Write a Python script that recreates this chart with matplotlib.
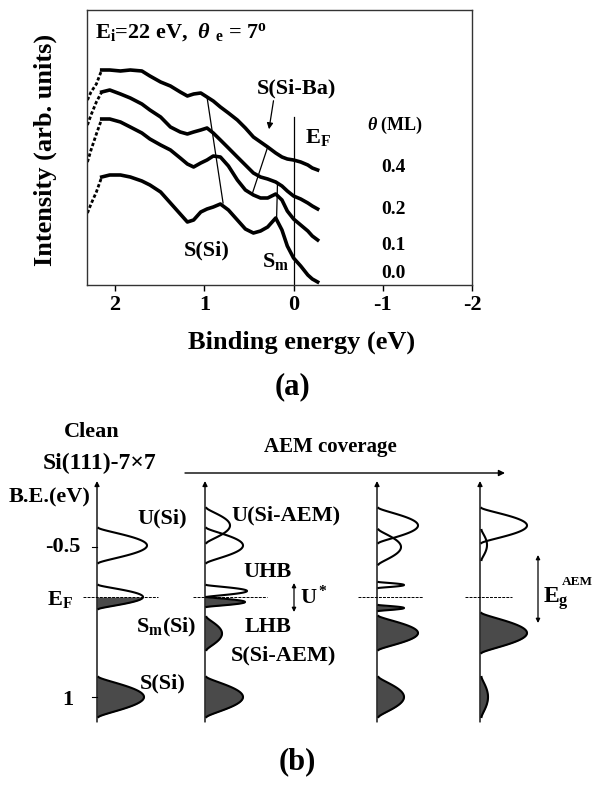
import numpy as np
import matplotlib
matplotlib.use("Agg")
import matplotlib.pyplot as plt

plt.rcParams['font.family'] = ['Liberation Serif', 'DejaVu Serif']
plt.rcParams['font.weight'] = 'bold'
plt.rcParams['mathtext.fontset'] = 'custom'
plt.rcParams['mathtext.rm'] = 'Liberation Serif:bold'
plt.rcParams['mathtext.bf'] = 'Liberation Serif:bold'
plt.rcParams['mathtext.it'] = 'Liberation Serif:italic'

# ---------------- panel (a) data ----------------
energy = [2.31, 2.27, 2.21, 2.15, 2.06, 1.94, 1.83, 1.70, 1.61, 1.49, 1.38, 1.27,
          1.19, 1.12, 1.04, 0.97, 0.90, 0.82, 0.73, 0.63, 0.54, 0.45, 0.37, 0.29,
          0.20, 0.13, 0.07, 0.00, -0.08, -0.16, -0.21, -0.27]
int_04 = [185, 193, 201, 215, 215, 214, 215, 214, 209, 203, 199, 193, 189, 191, 192, 188,
          184, 178, 172, 165, 157, 148, 143, 138, 132, 128, 126, 125, 123, 120, 117, 115]
int_02 = [160, 170, 183, 193, 195, 191, 187, 181, 175, 168, 158, 153, 151, 153, 155, 157,
          152, 145, 137, 128, 120, 112, 108, 106, 103, 99, 94, 89, 86, 82, 79, 76]
int_01 = [123, 135, 151, 166, 166, 163, 158, 152, 146, 140, 135, 127, 121, 118, 122, 125,
          129, 128, 119, 105, 95, 90, 87, 87, 91, 85, 74, 66, 60, 54, 49, 45]
int_00 = [72, 81, 93, 108, 110, 110, 108, 104, 100, 93, 82, 71, 63, 65, 73, 76,
          78, 81, 75, 65, 56, 52, 54, 58, 67, 55, 39, 27, 19, 10, 6, 3]
coverage_labels = ['0.4', '0.2', '0.1', '0.0']
xticks_a = [2, 1, 0, -1, -2]

# guide lines (energy, intensity) pairs
ssi_line_E, ssi_line_I = [0.97, 0.79], [188, 82]
sm_line_E, sm_line_I = [0.18, 0.19], [102, 67]
sba_line_E, sba_line_I = [0.29, 0.46], [138, 92]

# ---------------- panel (b) data ----------------
# column index, centre (eV), half range (eV), amplitude, fill mode
lobe_col = [0, 0, 0,
            1, 1, 1, 1, 1, 1,
            2, 2, 2, 2, 2, 2,
            3, 3, 3, 3]
lobe_center = [-0.515, 0.0, 1.0,
               -0.715, -0.515, -0.06, 0.05, 0.365, 1.0,
               -0.715, -0.50, -0.12, 0.11, 0.36, 1.0,
               -0.715, -0.52, 0.36, 1.0]
lobe_half = [0.175, 0.12, 0.20,
             0.175, 0.175, 0.06, 0.05, 0.165, 0.20,
             0.175, 0.175, 0.03, 0.03, 0.17, 0.20,
             0.175, 0.15, 0.20, 0.20]
lobe_amp = [50, 46, 47,
            25, 38, 42, 40, 17, 38,
            41, 24, 27, 27, 41, 27,
            47, 7, 47, 8]
lobe_fill = ['open', 'half', 'fill',
             'open', 'open', 'open', 'fill', 'fill', 'fill',
             'open', 'open', 'open', 'fill', 'fill', 'fill',
             'open', 'open', 'fill', 'fill']
yticks_b = [-0.5, 1.0]

W, H = 595, 791
fig = plt.figure(figsize=(W / 100, H / 100), dpi=100)

# ---------------- panel (a) ----------------
axa = fig.add_axes([87 / W, (H - 285) / H, 385 / W, 275 / H])
for I in [int_04, int_02, int_01, int_00]:
    axa.plot(energy[:4], I[:4], color='black', lw=2.0, ls=(0, (1.2, 0.8)))
    axa.plot(energy[3:], I[3:], color='black', lw=2.6, solid_joinstyle='round')
axa.plot(ssi_line_E, ssi_line_I, color='black', lw=0.9)
axa.plot(sm_line_E, sm_line_I, color='black', lw=0.9)
axa.plot(sba_line_E, sba_line_I, color='black', lw=0.9)
axa.plot([0, 0], [0, 168], color='black', lw=0.9)
axa.annotate('', xy=(0.28, 153), xytext=(0.22, 187),
             arrowprops=dict(arrowstyle='-|>', color='black', lw=0.9, mutation_scale=9))
axa.set_xlim(2.315, -2.0)
axa.set_ylim(0, 275)
axa.set_yticks([])
axa.set_xticks(xticks_a)
axa.set_xticklabels([str(t) for t in xticks_a], fontsize=16, fontweight='bold')
axa.tick_params(axis='x', direction='out', length=4, width=1, pad=3)
for s in axa.spines.values():
    s.set_linewidth(1.0)
    s.set_color('#333333')

# ---------------- panel (b) diagram ----------------
axb = fig.add_axes([0, 0, 1, 1])
axb.set_xlim(0, W)
axb.set_ylim((H - 597) / 100, (0 - 597) / 100)
axb.axis('off')
axb.patch.set_alpha(0)

col_x = [97, 205, 377, 480]
dash_ranges = [(83, 158), (193, 267), (358, 423), (465, 512)]
for x0 in col_x:
    axb.annotate('', xy=(x0, -1.16), xytext=(x0, 1.25),
                 arrowprops=dict(arrowstyle='-|>', color='black', lw=1.0,
                                 mutation_scale=7, shrinkA=0, shrinkB=0))
for (a, b) in dash_ranges:
    axb.plot([a, b], [0, 0], color='black', lw=0.7, ls=(0, (3, 1.2)))
for t in yticks_b:
    axb.plot([92, 97], [t, t], color='black', lw=0.8)

dark = '#4a4a4a'
for c, ec, hw, amp, mode in zip(lobe_col, lobe_center, lobe_half, lobe_amp, lobe_fill):
    x0 = col_x[c]
    E = np.linspace(ec - hw, ec + hw, 120)
    u = (E - ec) / hw
    x = x0 + 1.5 + (amp - 1.5) * np.clip(1 - u ** 2, 0, None) ** 1.4
    if mode == 'fill':
        axb.fill_betweenx(E, x0, x, color=dark, lw=0)
    elif mode == 'half':
        m = E >= ec
        axb.fill_betweenx(E[m], x0, x[m], color=dark, lw=0)
    axb.plot(x, E, color='black', lw=1.5)

axb.annotate('', xy=(505, -1.24), xytext=(185, -1.24),
             arrowprops=dict(arrowstyle='-|>', color='black', lw=1.0,
                             mutation_scale=9, shrinkA=0, shrinkB=0))
axb.annotate('', xy=(294, -0.14), xytext=(294, 0.15),
             arrowprops=dict(arrowstyle='<|-|>', color='black', lw=0.9,
                             mutation_scale=6, shrinkA=0, shrinkB=0))
axb.annotate('', xy=(538, -0.42), xytext=(538, 0.26),
             arrowprops=dict(arrowstyle='<|-|>', color='black', lw=0.9,
                             mutation_scale=6, shrinkA=0, shrinkB=0))

# ---------------- text overlay in pixel coordinates ----------------
axt = fig.add_axes([0, 0, 1, 1])
axt.set_xlim(0, W)
axt.set_ylim(H, 0)
axt.axis('off')
axt.patch.set_alpha(0)


def txt(x, y, s, size=16, ha='center', va='center', **kw):
    axt.text(x, y, s, fontsize=size, ha=ha, va=va, fontweight='bold', **kw)


# panel (a) texts
txt(95, 32, r'$\mathrm{E_i}$=22 eV,  $\theta$ $_{\mathrm{e}}$ = 7$^{\mathrm{o}}$', 16, ha='left')
txt(296, 88, 'S(Si-Ba)', 16)
txt(305, 137, r'$\mathrm{E_F}$', 16, ha='left')
txt(207, 250, 'S(Si)', 16)
txt(262, 262, r'$\mathrm{S_m}$', 16, ha='left')
txt(395, 125, r'$\theta$ (ML)', 13)
for lab, yy in zip(coverage_labels, [167, 209, 245, 273]):
    txt(393, yy, lab, 14)
txt(45, 150, 'Intensity (arb. units)', 19, rotation=90)
txt(302, 342, 'Binding energy (eV)', 19)
txt(293, 387, '(a)', 22)

# panel (b) texts
txt(92, 432, 'Clean', 16)
txt(100, 463, 'Si(111)-7×7', 17)
txt(330, 447, 'AEM coverage', 15)
txt(50, 497, 'B.E.(eV)', 16)
txt(63, 547, '-0.5', 16)
txt(60, 599, r'$\mathrm{E_F}$', 16)
txt(68, 700, '1', 16)
txt(162, 518, 'U(Si)', 16)
txt(286, 515, 'U(Si-AEM)', 16)
txt(268, 572, 'UHB', 16)
txt(268, 627, 'LHB', 16)
txt(166, 627, r'$\mathrm{S_m}$(Si)', 16)
txt(283, 655, 'S(Si-AEM)', 16)
txt(163, 683, 'S(Si)', 16)
txt(300, 597, r'$\mathrm{U^*}$', 16, ha='left')
txt(543, 599, r'$\mathrm{E_g}$', 17, ha='left')
txt(562, 582, 'AEM', 9.5, ha='left')
txt(297, 762, '(b)', 22)

fig.savefig('out.png', dpi=100)
